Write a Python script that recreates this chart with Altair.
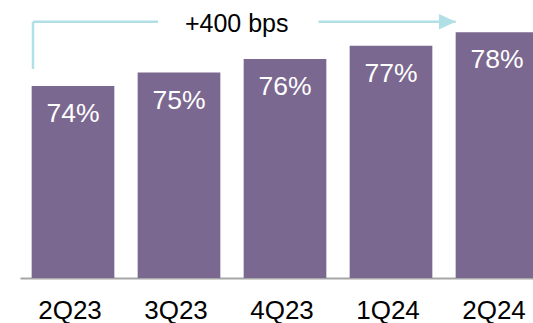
import altair as alt
import pandas as pd

# Quarterly margin, in percent
quarters = ["2Q23", "3Q23", "4Q23", "1Q24", "2Q24"]
margins = [74, 75, 76, 77, 78]
value_labels = [f"{v}%" for v in margins]

# Change annotation from first to last quarter
change_label = "+400 bps"
arrow_level = 78.78
bracket_base = 75.26

# Bottom of the value axis (bars start here)
y_floor = 59.7
y_ceiling = 80.4

FONT = "Liberation Sans, Arial, sans-serif"
BAR = "#7B6890"
ARROW = "#B0DFE5"

bars_df = pd.DataFrame({"quarter": quarters, "margin": margins, "label": value_labels})

x_scale = alt.Scale(domain=quarters, range=[0, 530], paddingInner=0.22, paddingOuter=0.11)
y_scale = alt.Scale(domain=[y_floor, y_ceiling], zero=False, nice=False)

x_enc = alt.X(
    "quarter:N",
    sort=quarters,
    scale=x_scale,
    axis=alt.Axis(
        title=None,
        labelFont=FONT,
        labelFontSize=26,
        labelColor="#000000",
        labelAngle=0,
        labelPadding=19,
        labelOffset=-3,
        ticks=False,
        tickSize=0,
        domainColor="#A6A6A6",
        domainWidth=2,
    ),
)
y_enc = alt.Y("margin:Q", scale=y_scale, axis=None)

bars = alt.Chart(bars_df).mark_bar(color=BAR).encode(
    x=x_enc, y=y_enc, y2=alt.Y2(datum=y_floor)
)

values = alt.Chart(bars_df).mark_text(
    color="#FFFFFF", font=FONT, fontSize=26.5, baseline="alphabetic", dy=36
).encode(x=alt.X("quarter:N", sort=quarters, scale=x_scale), y=alt.Y("margin:Q", scale=y_scale), text="label:N")

# Bracket and arrow showing the change across the period
ann_df = pd.DataFrame({
    "quarter": [quarters[0]],
    "quarter_mid": [quarters[1]],
    "quarter_next": [quarters[2]],
    "quarter_end": [quarters[-1]],
    "lo": [bracket_base],
    "hi": [arrow_level],
    "text": [change_label],
})

upright = alt.Chart(ann_df).mark_rule(color=ARROW, strokeWidth=2.5).encode(
    x=alt.X("quarter:N", sort=quarters, scale=x_scale, bandPosition=0.016),
    y=alt.Y("lo:Q", scale=y_scale),
    y2="hi:Q",
)

left_run = alt.Chart(ann_df).mark_rule(color=ARROW, strokeWidth=2.5).encode(
    x=alt.X("quarter:N", sort=quarters, scale=x_scale, bandPosition=0.016),
    x2=alt.X2("quarter_mid:N", bandPosition=0.246),
    y=alt.Y("hi:Q", scale=y_scale),
)

right_run = alt.Chart(ann_df).mark_rule(color=ARROW, strokeWidth=2.5).encode(
    x=alt.X("quarter_next:N", sort=quarters, scale=x_scale, bandPosition=0.906),
    x2=alt.X2("quarter_end:N", bandPosition=0.0),
    y=alt.Y("hi:Q", scale=y_scale),
)

head = alt.Chart(ann_df).mark_point(
    shape="M-2,-0.92L0,0L-2,0.92Z", filled=True, color=ARROW, opacity=1, size=279
).encode(
    x=alt.X("quarter_end:N", sort=quarters, scale=x_scale, bandPosition=0.0),
    y=alt.Y("hi:Q", scale=y_scale),
)

change_text = alt.Chart(ann_df).mark_text(
    color="#000000", font=FONT, fontSize=25, baseline="alphabetic", dy=10, dx=-7
).encode(
    x=alt.X("quarter_next:N", sort=quarters, scale=x_scale, bandPosition=0.0),
    y=alt.Y("hi:Q", scale=y_scale),
    text="text:N",
)

chart = (
    alt.layer(bars, values, upright, left_run, right_run, head, change_text)
    .properties(
        width=513,
        height=278,
        autosize=alt.AutoSizeParams(type="none"),
        padding={"left": 20, "top": 0, "right": 0, "bottom": 45},
        background="#FFFFFF",
    )
    .configure_view(strokeWidth=0)
)

chart.save("out.html", embed_options={"renderer": "svg", "actions": False})
